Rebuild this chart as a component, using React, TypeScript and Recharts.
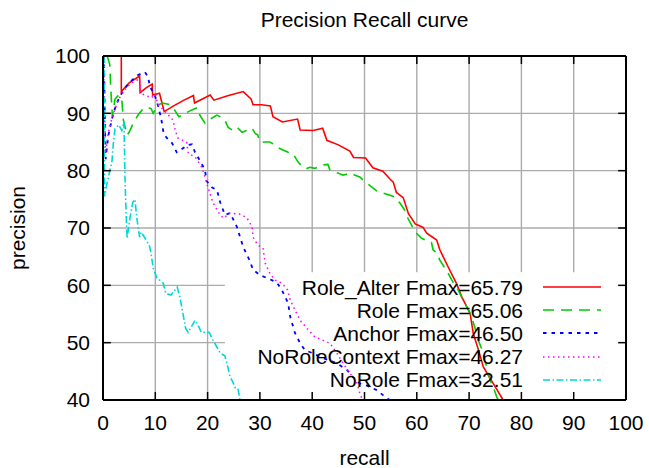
import { LineChart, Line, XAxis, YAxis, CartesianGrid, ReferenceLine, Legend } from "recharts";

const FONT = '"Liberation Sans", Arial, Helvetica, sans-serif';

const xTicks = [0, 10, 20, 30, 40, 50, 60, 70, 80, 90, 100];
const yTicks = [40, 50, 60, 70, 80, 90, 100];

// Role_Alter
const roleAlterRecall = [0.3, 3.5, 3.5, 5, 7, 7.1, 8.3, 9.4, 9.5, 10.8, 11.7, 13.5, 15.5, 17.3, 17.5, 19, 20.5, 21.2, 24, 26.8, 28.3, 28.7, 30.3, 32, 32.5, 34.3, 37.2, 37.7, 40.2, 42, 42.8, 45, 47.2, 47.9, 50.2, 51.6, 53.5, 54.9, 55.5, 56.1, 57.4, 58.4, 59.7, 61.2, 61.9, 63.8, 64.4, 66, 67.6, 68.6, 70.2, 70.8, 71.8, 72.7, 74.6, 76.5];
const roleAlterPrecision = [100, 100, 93.8, 95.3, 96.5, 93.6, 94.5, 95.1, 93.2, 93.5, 90.3, 91.3, 92.3, 93.1, 91.8, 92.5, 93.2, 92.3, 93.1, 93.8, 92.5, 91.5, 91.5, 91.3, 89.4, 88.5, 89.0, 87.1, 87.0, 87.4, 85.3, 84.5, 83.4, 82.3, 82.2, 80.5, 79.9, 78.5, 78.0, 76.2, 75.3, 72.5, 70.7, 70.1, 69.1, 67.9, 66.2, 63.2, 60.3, 58.0, 55.1, 51.6, 48.7, 45.8, 42.9, 40.0];

// Role
const roleRecall = [0.8, 1.3, 1.5, 1.8, 2.3, 3, 3.6, 3.9, 4.6, 5, 5.8, 6.7, 7.5, 8.4, 9.2, 9.6, 10.5, 11.3, 12.5, 13.4, 14.5, 15.7, 17, 18, 18.5, 19.5, 20.5, 21.8, 22.8, 23.3, 23.9, 24.7, 25.6, 26.6, 28.5, 29.1, 29.6, 30, 30.6, 31.9, 32.9, 33.5, 34.4, 35.4, 36.3, 36.7, 37.3, 38.2, 39, 39.6, 40.5, 42.1, 43, 43.4, 44, 44.9, 45.9, 47.2, 48.2, 49.1, 49.7, 51.3, 52.6, 53.5, 54.9, 55.8, 56.8, 57.7, 58.3, 59.7, 60.9, 62.8, 63.1, 63.9, 64.4, 66, 66.7, 67.9, 68.6, 69.6, 70.2, 71.1, 71.5, 72.5, 73, 73.6, 74, 74.6, 75.3, 75.6];
const rolePrecision = [100, 98.5, 94, 89.5, 92.5, 93.2, 92.3, 88.8, 86.2, 86.7, 88.3, 89.7, 90.6, 91.1, 90.8, 90, 91.4, 91.8, 91.6, 91, 89.4, 90, 90.6, 91, 89.7, 88.3, 89, 89.7, 89.2, 88.8, 87.6, 87.1, 87.6, 86.7, 87.4, 86.5, 86.2, 85, 85, 85, 84.5, 84, 83.6, 83.2, 83, 82.4, 81.5, 80.6, 80.4, 80.6, 80.4, 81, 81.1, 80.1, 79.8, 79.6, 79.2, 79.6, 79.2, 78.9, 78.4, 77.2, 76.3, 76.1, 75.7, 75.4, 74.3, 73.1, 71.7, 69.3, 68.2, 67.5, 66.2, 65.6, 64.4, 62.1, 60.9, 59.2, 57.9, 56.2, 55.1, 52.7, 51, 48.7, 46.9, 45.2, 43.5, 42.3, 40.5, 40];

// Anchor
const anchorRecall = [0.2, 0.3, 0.5, 1, 1.7, 2.5, 3.3, 4.3, 5.2, 6.7, 8, 8.6, 9, 9.9, 10.5, 11.1, 11.6, 12.2, 13.2, 14.1, 15.3, 16.3, 17, 17.6, 18.5, 19.5, 19.8, 20.8, 21.8, 22.4, 23.3, 24.3, 25.6, 26.8, 28.1, 28.7, 30, 31.5, 32.3, 33.3, 34.2, 34.8, 35.4, 35.8, 36.7, 37.7, 38.6, 40, 42.1, 44.7, 46.7, 47.8, 49.1, 50.5, 52.4, 53.6, 54.8];
const anchorPrecision = [100, 92, 82, 86, 89, 91.5, 93.1, 94.5, 95.5, 96.7, 97.2, 96.4, 94.6, 93.2, 91.4, 89.2, 86.5, 85.7, 84.8, 83.2, 83.9, 84.5, 84.6, 83.2, 81.8, 80.1, 78.2, 77.1, 76.6, 74.5, 72.3, 72.6, 70.2, 66.7, 64.2, 62.7, 61.8, 61.2, 60.9, 60.4, 59.2, 58, 56.9, 54.5, 51.7, 49.9, 48.7, 48.2, 47.3, 46.4, 45.2, 44, 42.9, 42.5, 41.7, 40.8, 40];

// NoRoleContext
const noRoleContextRecall = [0.2, 0.3, 0.5, 1, 1.8, 3, 4.5, 5.8, 7, 7.2, 8.5, 9.2, 10, 10.5, 11.3, 12.2, 13.4, 13.8, 14.3, 16, 16.3, 17.6, 18.9, 19.5, 20.1, 21, 22, 23, 24.3, 26.2, 27.5, 28.5, 28.7, 29.6, 30.6, 31, 31.9, 32.9, 34.2, 35.3, 35.8, 36.7, 37.7, 39, 40.5, 42.1, 43.4, 44.7, 45.9, 47.2, 48.6, 49.1, 49.6];
const noRoleContextPrecision = [100, 90, 83, 86.5, 89.5, 92.5, 94.5, 95.5, 96, 93.5, 93, 92.7, 93.3, 91.5, 90.9, 90, 88.8, 87.1, 85.7, 85, 83, 82.4, 80.6, 78.9, 77, 74.5, 72.8, 71.7, 72.6, 72.4, 71.8, 70.2, 68.4, 67, 66.5, 63.9, 62.1, 60.9, 60.4, 59.2, 57.4, 55.7, 53.9, 52.5, 51, 50.4, 49.9, 48.2, 46.4, 44.7, 42.9, 41.2, 40];

// NoRole
const noRoleRecall = [0.2, 0.3, 0.7, 1.3, 1.7, 2, 2.3, 3, 3.6, 4, 4.1, 4.2, 4.4, 4.6, 5.2, 5.7, 6.1, 6.5, 7, 7.3, 8.2, 8.9, 9.2, 9.6, 10.3, 11.5, 12, 13, 14.2, 14.8, 15.3, 15.8, 16.3, 17.6, 18.2, 18.8, 20.3, 21, 21.8, 22.4, 23.3, 23.8, 24.3, 24.8, 25.3, 25.8, 26.2];
const noRolePrecision = [100, 75.5, 77.5, 80, 81.5, 85, 87.3, 88, 87, 88.5, 84, 79, 73, 68.2, 72, 74.5, 75, 71.5, 68.4, 69.3, 68, 66.8, 65.5, 63, 61.3, 60.4, 58.6, 58.3, 59.7, 57.5, 55, 52.5, 51.8, 53.9, 53, 51.8, 51.8, 50.5, 49.2, 48.2, 47.7, 46, 44, 43.2, 42.1, 42, 40];

const toPoints = (r: number[], p: number[]) => r.map((x, i) => ({ recall: x, precision: p[i] }));

const SERIES = [
  { name: "Role_Alter", fmax: "65.79", data: toPoints(roleAlterRecall, roleAlterPrecision), color: "#ff0000", dash: undefined, width: 1.6 },
  { name: "Role", fmax: "65.06", data: toPoints(roleRecall, rolePrecision), color: "#00cc00", dash: "11 7", width: 1.6 },
  { name: "Anchor", fmax: "46.50", data: toPoints(anchorRecall, anchorPrecision), color: "#0000ff", dash: "3.5 5", width: 1.8 },
  { name: "NoRoleContext", fmax: "46.27", data: toPoints(noRoleContextRecall, noRoleContextPrecision), color: "#ff00ff", dash: "1.5 3.5", width: 1.5 },
  { name: "NoRole", fmax: "32.51", data: toPoints(noRoleRecall, noRolePrecision), color: "#00d8d8", dash: "7 2.5 1.5 2.5", width: 1.6 },
];

const X_MAX = 100;
const Y_MIN = 40;
const Y_MAX = 100;
// gnuplot leaves the grid out behind the key
const KEY_LEFT = 23.3;
const KEY_TOP = 62.3;
const TICK_X = 1.5;
const TICK_Y = 1.4;
const GRID = { stroke: "#ababab", strokeWidth: 1.4 };

function hGridLine(p: any) {
  const value = Y_MAX - ((p.y1 - p.y) / p.height) * (Y_MAX - Y_MIN);
  if (value < Y_MIN + 0.5 || value > Y_MAX - 0.5) return <g key={p.key} />;
  const x2 = value < KEY_TOP ? p.x1 + ((p.x2 - p.x1) * KEY_LEFT) / X_MAX : p.x2;
  return <line key={p.key} x1={p.x1} y1={p.y1} x2={x2} y2={p.y2} {...GRID} />;
}

function vGridLine(p: any) {
  const value = ((p.x1 - p.x) / p.width) * X_MAX;
  if (value < 0.5 || value > X_MAX - 0.5) return <g key={p.key} />;
  const y2 = value > KEY_LEFT ? p.y1 + ((p.y2 - p.y1) * (Y_MAX - KEY_TOP)) / (Y_MAX - Y_MIN) : p.y2;
  return <line key={p.key} x1={p.x1} y1={p.y1} x2={p.x2} y2={y2} {...GRID} />;
}

const innerX = xTicks.slice(1, -1);
const innerY = yTicks.slice(1, -1);

function renderKey() {
  return (
    <div style={{ fontFamily: FONT, fontSize: 21, color: "#000" }}>
      {SERIES.map((s) => (
        <div key={s.name} style={{ display: "flex", alignItems: "center", height: 23.2 }}>
          <span style={{ width: 523, textAlign: "right", whiteSpace: "nowrap", lineHeight: "23px" }}>
            {s.name} Fmax={s.fmax}
          </span>
          <svg width={80} height={10}>
            <line x1={20} x2={78} y1={5} y2={5} stroke={s.color} strokeWidth={s.width} strokeDasharray={s.dash} />
          </svg>
        </div>
      ))}
    </div>
  );
}

export default function App() {
  const tickStyle = { fill: "#000", fontSize: 21, fontFamily: FONT };
  return (
    <div style={{ position: "absolute", left: 0, top: 0, width: 649, height: 468, background: "#fff", fontFamily: FONT }}>
      <LineChart width={649} height={468} margin={{ top: 56, right: 23, bottom: 0, left: 0 }}>
        <CartesianGrid horizontal={hGridLine} vertical={vGridLine} />
        <XAxis
          dataKey="recall"
          type="number"
          domain={[0, X_MAX]}
          ticks={xTicks}
          allowDataOverflow
          height={68}
          tickSize={0}
          tickMargin={15}
          tickLine={false}
          tick={tickStyle}
          axisLine={{ stroke: "#000", strokeWidth: 2 }}
        />
        <YAxis
          type="number"
          domain={[Y_MIN, Y_MAX]}
          ticks={yTicks}
          allowDataOverflow
          width={103}
          tickSize={0}
          tickMargin={13}
          tickLine={false}
          tick={tickStyle}
          axisLine={{ stroke: "#000", strokeWidth: 2 }}
        />
        {SERIES.map((s) => (
          <Line
            key={s.name}
            name={s.name}
            data={s.data}
            dataKey="precision"
            type="linear"
            stroke={s.color}
            strokeWidth={s.width}
            strokeDasharray={s.dash}
            dot={false}
            activeDot={false}
            isAnimationActive={false}
          />
        ))}
        <ReferenceLine y={Y_MAX} stroke="#000" strokeWidth={2} />
        <ReferenceLine x={X_MAX} stroke="#000" strokeWidth={2} />
        {innerX.map((t) => (
          <ReferenceLine key={`xb${t}`} segment={[{ x: t, y: Y_MIN }, { x: t, y: Y_MIN + TICK_Y }]} stroke="#000" strokeWidth={1.5} />
        ))}
        {innerX.map((t) => (
          <ReferenceLine key={`xt${t}`} segment={[{ x: t, y: Y_MAX }, { x: t, y: Y_MAX - TICK_Y }]} stroke="#000" strokeWidth={1.5} />
        ))}
        {innerY.map((t) => (
          <ReferenceLine key={`yl${t}`} segment={[{ x: 0, y: t }, { x: TICK_X, y: t }]} stroke="#000" strokeWidth={1.5} />
        ))}
        {innerY.map((t) => (
          <ReferenceLine key={`yr${t}`} segment={[{ x: X_MAX, y: t }, { x: X_MAX - TICK_X, y: t }]} stroke="#000" strokeWidth={1.5} />
        ))}
        <Legend
          layout="vertical"
          align="center"
          verticalAlign="middle"
          content={renderKey}
          wrapperStyle={{ left: 0, top: 275.5, width: 649 }}
        />
      </LineChart>
      <div style={{ position: "absolute", left: 103, width: 523, top: 8, textAlign: "center", fontSize: 21, whiteSpace: "nowrap" }}>
        Precision Recall curve
      </div>
      <div style={{ position: "absolute", left: 103, width: 523, top: 446, textAlign: "center", fontSize: 21 }}>recall</div>
      <div
        style={{
          position: "absolute",
          left: 18,
          top: 228,
          fontSize: 21,
          whiteSpace: "nowrap",
          transform: "translate(-50%, -50%) rotate(-90deg)",
        }}
      >
        precision
      </div>
    </div>
  );
}
